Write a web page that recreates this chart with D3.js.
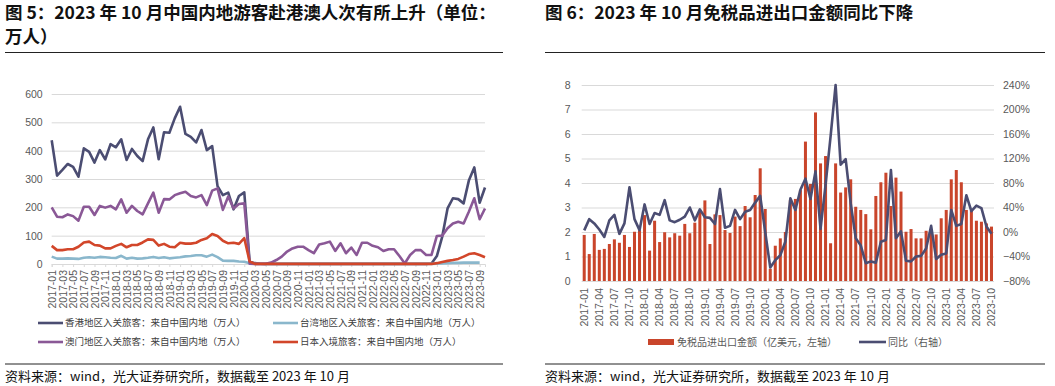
<!DOCTYPE html>
<html>
<head>
<meta charset="utf-8">
<script src="https://cdn.jsdelivr.net/npm/d3@7"></script>
<style>
  body { margin: 0; background: #fff; }
  svg text { font-family: "Liberation Sans", Arial, sans-serif; }
  svg text.cjk { font-family: "Noto Sans CJK SC", sans-serif; }
</style>
</head>
<body>
<svg id="chart" width="1055" height="386"></svg>
<script>
// months 2017-01 .. 2023-10 (shared by both panels)
const months = d3.timeMonth.range(new Date(2017, 0, 1), new Date(2023, 10, 1)).map(d3.timeFormat("%Y-%m"));

// left panel: mainland visitors (万人)
const hkVisitors = [437,312,332,353,343,308,408,396,358,402,369,423,412,440,367,406,381,363,440,482,370,465,463,514,555,459,449,429,473,402,416,275,243,252,193,240,253,
  8,3,1,0.6,0.6,0.6,0.6,0.6,0.6,0.6,0.6,0.6,0.6,0.6,0.6,0.6,0.6,0.6,0.6,0.6,0.6,0.6,0.6,0.6,0.6,0.6,0.6,0.6,0.6,0.6,0.6,0.6,0.6,0.6,2,
  28,96,196,232,229,214,296,341,216,270];
const twVisitors = [26,19,19,20,19,18,22,24,22,25,24,22,21,29,19,22,19,20,22,25,21,24,20,22,24,27,28,31,31,26,33,24,12,11,11,9,8,
  3,0.3,0.3,0.3,0.3,0.3,0.3,0.3,0.3,0.3,0.3,0.3,0.3,0.3,0.3,0.3,0.3,0.3,0.3,0.3,0.3,0.3,0.3,0.3,0.3,0.3,0.3,0.3,0.3,0.3,0.3,0.3,0.3,0.3,0.3,
  1,2,3,4,4,5,5,5,5];
const moVisitors = [200,167,165,175,169,153,202,202,173,205,199,205,193,228,181,205,187,175,214,252,181,229,228,243,250,255,240,235,243,208,259,267,191,238,196,212,214,
  1,0.5,0.5,0.5,5,14,26,44,55,61,61,49,38,69,73,79,46,73,38,58,32,75,75,64,59,46,52,52,28,2,32,49,49,32,32,
  99,100,126,143,149,143,185,232,158,196];
const jpVisitors = [64,49,49,52,52,61,76,79,67,65,55,55,64,71,59,67,67,76,87,85,65,71,61,59,75,72,72,75,85,91,106,99,82,73,75,71,91,
  9,0.3,0.3,0.3,0.3,0.3,0.3,0.3,0.3,0.3,0.3,0.3,0.3,0.3,0.3,0.3,0.3,0.3,0.3,0.3,0.3,0.3,0.3,0.3,0.3,0.3,0.3,0.3,0.3,0.3,0.3,0.3,0.3,0.3,0.3,
  3,7,11,14,18,26,35,38,32,24];
const leftNames = ["香港地区入关旅客：来自中国内地（万人）", "台湾地区入关旅客：来自中国内地（万人）",
                   "澳门地区入关旅客：来自中国内地（万人）", "日本入境旅客：来自中国内地（万人）"];
const leftTicks = [0, 100, 200, 300, 400, 500, 600];

// right panel: duty free import/export (亿美元) and yoy
const dutyFree = [1.88,1.10,1.92,1.27,1.31,1.51,1.70,1.56,1.88,1.39,2.01,2.07,2.69,1.24,2.46,1.59,1.99,1.78,1.95,1.85,2.33,1.95,2.38,2.83,3.29,1.51,2.72,2.69,2.08,1.96,2.63,2.24,3.06,2.60,3.51,4.60,2.94,
  0.5,1.44,1.74,2.0,3.3,3.35,3.71,5.69,3.96,6.88,4.80,5.10,1.54,4.80,3.61,3.82,4.15,3.03,2.90,2.73,2.11,3.47,4.03,4.42,3.06,4.22,3.65,2.01,2.12,1.74,1.74,2.05,2.08,1.90,2.56,
  2.90,4.15,4.53,4.03,2.90,2.86,2.46,2.42,2.35,2.22];
const dutyYoy = [2.7,21,14,4,-8,19,28,-3,14,73,21,3,45,13,31,28,52,19,16,20,25,40,19,37,24,23,13,70,7,10,36,21,33,36,48,59,0,
  -58,-46,-38,-16,55,36,69,87,54,99,5,77,156,240,110,119,47,-10,-22,-51,-48,-50,-16,-13,101,-10,1,-47,-48,-40,-39,-27,10,-44,-37,
  -35,36,10,13,60,34,43,39,9,-3].map(v => v / 100);
const rightNames = ["免税品进出口金额（亿美元，左轴）", "同比（右轴）"];
const rightTicksL = [0, 1, 2, 3, 4, 5, 6, 7, 8];
const rightTicksR = [-0.8, -0.4, 0, 0.4, 0.8, 1.2, 1.6, 2.0, 2.4];

const svg = d3.select("#chart");
const grey = "#595959";

// titles, rules and sources
function header(x0, x1, lines) {
    lines.forEach((t, i) => {
        svg.append("text").attr("class", "cjk")
            .attr("x", x0).attr("y", 19 + i * 24)
            .attr("font-size", 17.5).attr("font-weight", "bold").attr("fill", "#111")
            .text(t);
    });
    svg.append("line").attr("x1", x0).attr("x2", x1).attr("y1", 52.5).attr("y2", 52.5)
        .attr("stroke", "#222").attr("stroke-width", 1);
    svg.append("line").attr("x1", x0).attr("x2", x1).attr("y1", 364).attr("y2", 364)
        .attr("stroke", "#222").attr("stroke-width", 1);
    svg.append("text").attr("class", "cjk")
        .attr("x", x0).attr("y", 381)
        .attr("font-size", 13).attr("fill", "#111")
        .text("资料来源：wind，光大证券研究所，数据截至 2023 年 10 月");
}
header(5, 503, ["图 5：2023 年 10 月中国内地游客赴港澳人次有所上升（单位：", "万人）"]);
header(545, 1045, ["图 6：2023 年 10 月免税品进出口金额同比下降"]);

// ---------- left chart ----------
const xL = d3.scalePoint().domain(months).range([51.7, 485]);
const yL = d3.scaleLinear().domain([0, 600]).range([264, 94]);

const gL = svg.append("g");
gL.append("g").attr("transform", "translate(51.7,0)")
    .call(d3.axisLeft(yL).tickValues(leftTicks).tickSize(-(485 - 51.7)).tickPadding(9))
    .call(g => g.select(".domain").remove())
    .call(g => g.selectAll(".tick line").attr("stroke", "#d9d9d9"))
    .call(g => g.selectAll(".tick text").attr("fill", grey).attr("font-size", 10.5)
        .attr("font-family", "Liberation Sans, Arial, sans-serif"));

gL.append("g").attr("transform", "translate(0,264)")
    .call(d3.axisBottom(xL).tickValues(months.filter((d, i) => i % 2 == 0)).tickSize(3).tickPadding(4))
    .call(g => g.select(".domain").attr("stroke", "#d9d9d9"))
    .call(g => g.selectAll(".tick line").attr("stroke", "#d9d9d9"))
    .call(g => g.selectAll(".tick text").attr("fill", grey).attr("font-size", 10.5)
        .attr("font-family", "Liberation Sans, Arial, sans-serif")
        .attr("transform", "rotate(-90)").attr("text-anchor", "end")
        .attr("x", -6).attr("y", 0).attr("dy", "0.35em"));

const leftSeries = [
    {name: leftNames[0], values: hkVisitors, color: "#4b4d72"},
    {name: leftNames[1], values: twVisitors, color: "#8ab7cc"},
    {name: leftNames[2], values: moVisitors, color: "#8a5896"},
    {name: leftNames[3], values: jpVisitors, color: "#d2462a"}
];
const lineL = d3.line().x((d, i) => xL(months[i])).y(d => yL(d));
leftSeries.forEach(s => {
    gL.append("path").datum(s.values)
        .attr("fill", "none").attr("stroke", s.color).attr("stroke-width", 2.6)
        .attr("stroke-linejoin", "round")
        .attr("d", lineL);
});

// left legend (2 x 2)
leftSeries.forEach((s, i) => {
    const lx = i % 2 == 0 ? 38 : 273;
    const ly = i < 2 ? 323 : 342;
    gL.append("line").attr("x1", lx).attr("x2", lx + 25).attr("y1", ly).attr("y2", ly)
        .attr("stroke", s.color).attr("stroke-width", 2.6);
    gL.append("text").attr("class", "cjk").attr("x", lx + 27).attr("y", ly).attr("dy", "0.35em")
        .attr("font-size", 9.5).attr("fill", "#404040").text(s.name);
});

// ---------- right chart ----------
const xR = d3.scaleBand().domain(months).range([581.7, 994]);
const yRL = d3.scaleLinear().domain([0, 8]).range([281, 85]);
const yRR = d3.scaleLinear().domain([-0.8, 2.4]).range([281, 85]);

const gR = svg.append("g");
gR.append("g").attr("transform", "translate(581.7,0)")
    .call(d3.axisLeft(yRL).tickValues(rightTicksL).tickSize(-(994 - 581.7)).tickPadding(11))
    .call(g => g.select(".domain").remove())
    .call(g => g.selectAll(".tick line").attr("stroke", "#d9d9d9"))
    .call(g => g.selectAll(".tick text").attr("fill", grey).attr("font-size", 10.5)
        .attr("font-family", "Liberation Sans, Arial, sans-serif"));

gR.append("g").attr("transform", "translate(994,0)")
    .call(d3.axisRight(yRR).tickValues(rightTicksR).tickSize(0).tickPadding(9).tickFormat(d3.format(".0%")))
    .call(g => g.select(".domain").remove())
    .call(g => g.selectAll(".tick text").attr("fill", grey).attr("font-size", 10.5)
        .attr("font-family", "Liberation Sans, Arial, sans-serif"));

gR.append("g").attr("transform", "translate(0,281)")
    .call(d3.axisBottom(xR).tickValues(months.filter((d, i) => i % 3 == 0)).tickSize(0).tickPadding(4))
    .call(g => g.select(".domain").remove())
    .call(g => g.selectAll(".tick text").attr("fill", grey).attr("font-size", 10.5)
        .attr("font-family", "Liberation Sans, Arial, sans-serif")
        .attr("transform", "rotate(-90)").attr("text-anchor", "end")
        .attr("x", -7).attr("y", 0).attr("dy", "0.35em"));

const bw = xR.bandwidth();
gR.append("g").selectAll("rect")
    .data(dutyFree)
    .enter()
    .append("rect")
    .attr("x", (d, i) => xR(months[i]) + bw * 0.2)
    .attr("width", bw * 0.6)
    .attr("y", d => yRL(d))
    .attr("height", d => yRL(0) - yRL(d))
    .attr("fill", "#c9452b");

gR.append("path").datum(dutyYoy)
    .attr("fill", "none").attr("stroke", "#4b4d72").attr("stroke-width", 2.6)
    .attr("stroke-linejoin", "round")
    .attr("d", d3.line()
        .x((d, i) => xR(months[i]) + bw / 2)
        .y(d => yRR(d)));

// right legend
gR.append("rect").attr("x", 648).attr("y", 339).attr("width", 26).attr("height", 6).attr("fill", "#c9452b");
gR.append("text").attr("class", "cjk").attr("x", 677).attr("y", 342).attr("dy", "0.35em")
    .attr("font-size", 10).attr("fill", grey).text(rightNames[0]);
gR.append("line").attr("x1", 859).attr("x2", 886).attr("y1", 342).attr("y2", 342)
    .attr("stroke", "#4b4d72").attr("stroke-width", 2.6);
gR.append("text").attr("class", "cjk").attr("x", 888).attr("y", 342).attr("dy", "0.35em")
    .attr("font-size", 10).attr("fill", grey).text(rightNames[1]);
</script>
</body>
</html>
